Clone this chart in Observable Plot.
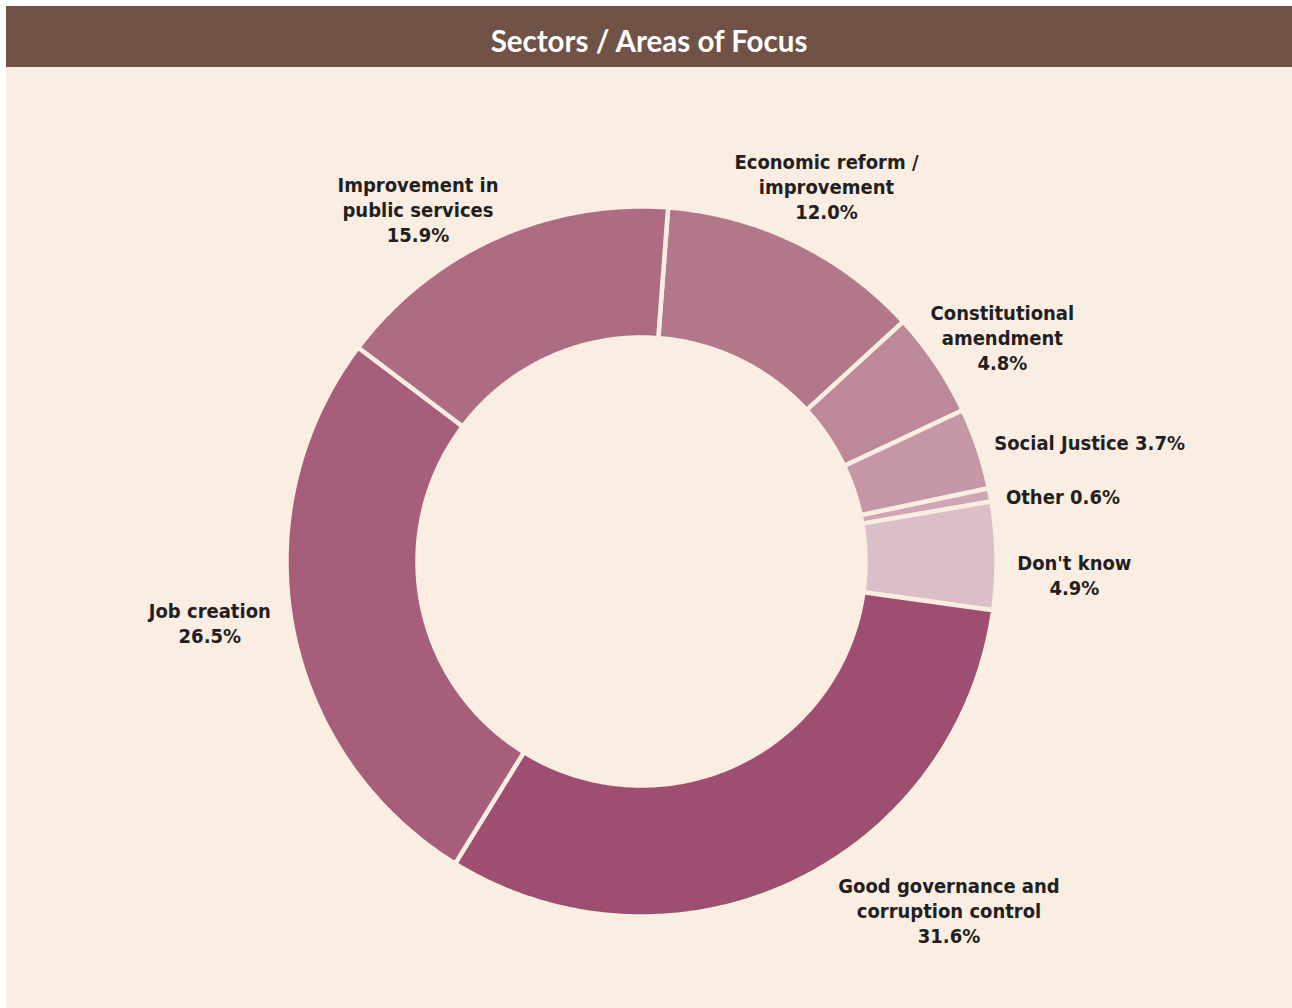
<!DOCTYPE html>
<html>
<head>
<meta charset="utf-8">
<script src="https://cdn.jsdelivr.net/npm/d3@7"></script>
<script src="https://cdn.jsdelivr.net/npm/@observablehq/plot@0.6"></script>
<style>
  html, body { margin: 0; padding: 0; background: #ffffff; }
  #wrap { position: absolute; left: 6px; top: 6px; width: 1286px; }
  #title { height: 61px; background: #705246; color: #ffffff; font-family: "Lato", "Open Sans", sans-serif; font-weight: 700; font-size: 29.5px; text-align: center; line-height: 70px; }
  #chart { background: #faede2; height: 941px; }
  #chart svg { display: block; }
</style>
</head>
<body>
<div id="wrap">
  <div id="title">Sectors / Areas of Focus</div>
  <div id="chart"></div>
</div>
<script>
// ---- data ----
const categories = [
  "Economic reform /\nimprovement",
  "Constitutional\namendment",
  "Social Justice",
  "Other",
  "Don't know",
  "Good governance and\ncorruption control",
  "Job creation",
  "Improvement in\npublic services"
];
const values = [12.0, 4.8, 3.7, 0.6, 4.9, 31.6, 26.5, 15.9];
const sliceColors = ["#b27789", "#bd8899", "#c596a5", "#cfa6b4", "#dcbec8", "#9e4e70", "#a65e7a", "#ae6c82"];
const inlinePercent = [false, false, true, true, false, false, false, false];

// ---- layout (pixels) ----
const W = 1286, H = 941;
const cx = 635, cy = 494, R = 355;
const innerRatio = 224 / 355;
const startDeg = 4.3;
const labelRadius = 1.18;
const labelNudge = [[2, 1], [13, 9], [51, 14], [10, 13], [14, 20], [129, -30], [-20, -16], [-51, 29]];

const pie = d3.pie().sort(null).value(d => d.value)
  .startAngle(startDeg * Math.PI / 180)
  .endAngle(startDeg * Math.PI / 180 + 2 * Math.PI);
const rows = categories.map((c, i) => ({category: c, value: values[i], i}));
const arcs = pie(rows);

const polys = [];
for (const a of arcs) {
  const n = Math.max(4, Math.ceil((a.endAngle - a.startAngle) / (Math.PI / 360)));
  const key = a.data.category;
  for (let k = 0; k <= n; k++) {
    const t = a.startAngle + (a.endAngle - a.startAngle) * k / n;
    polys.push({key, x: Math.sin(t), y: Math.cos(t)});
  }
  for (let k = n; k >= 0; k--) {
    const t = a.startAngle + (a.endAngle - a.startAngle) * k / n;
    polys.push({key, x: innerRatio * Math.sin(t), y: innerRatio * Math.cos(t)});
  }
}

const labels = arcs.map(a => {
  const mid = (a.startAngle + a.endAngle) / 2;
  const i = a.data.i;
  const pct = a.data.value.toFixed(1) + "%";
  return {
    text: inlinePercent[i] ? a.data.category + " " + pct : a.data.category + "\n" + pct,
    x: labelRadius * Math.sin(mid) + labelNudge[i][0] / R,
    y: labelRadius * Math.cos(mid) - labelNudge[i][1] / R
  };
});

const plot = Plot.plot({
  width: W,
  height: H,
  margin: 0,
  style: {background: "#faede2", overflow: "visible"},
  x: {domain: [-1, 1], range: [cx - R, cx + R], axis: null},
  y: {domain: [-1, 1], range: [cy + R, cy - R], axis: null},
  color: {domain: categories, range: sliceColors},
  marks: [
    Plot.line(polys, {
      x: "x", y: "y", z: "key", fill: "key",
      stroke: "#faede2", strokeWidth: 4.5, curve: "linear-closed"
    }),
    Plot.text(labels, {
      x: "x", y: "y", text: "text",
      fontFamily: "'DejaVu Sans Condensed', 'DejaVu Sans', sans-serif",
      fontWeight: "bold", fontSize: 20, fill: "#231f20",
      lineHeight: 1.25, textAnchor: "middle", lineAnchor: "middle"
    })
  ]
});
document.getElementById("chart").appendChild(plot);
</script>
</body>
</html>
